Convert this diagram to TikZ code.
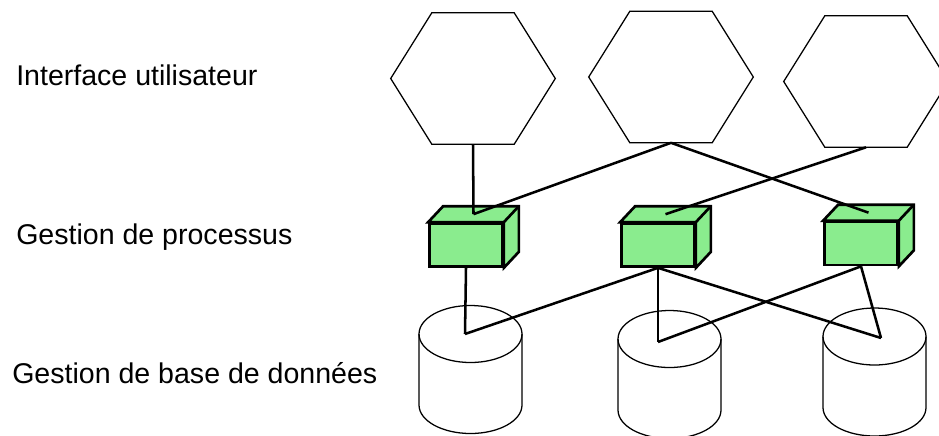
\documentclass[tikz,border=0pt]{standalone}
\usepackage{fontspec}
\setmainfont{Liberation Sans}
\usepackage{tikz}
\usetikzlibrary{calc}
\definecolor{procgreen}{HTML}{8AEC8E}

\begin{document}
\begin{tikzpicture}[x=0.025cm,y=0.025cm,every node/.style={font=\fontsize{20.3}{24}\selectfont},layer/.style={anchor=base west,inner sep=0pt},hexa/.style={minimum width=4.1cm,minimum height=3.275cm,inner sep=0pt},proc/.style={draw,line width=1.9pt,fill=procgreen,minimum width=1.825cm,minimum height=1.075cm,inner sep=0pt},link/.style={line width=1.8pt},outline/.style={line width=0.9pt}]
\useasboundingbox (0,0) rectangle (939,-435);
% layer captions
\node[layer] (ui) at (16,-85) {Interface utilisateur};
\node[layer] (proc) at (16,-244) {Gestion de processus};
\node[layer] (bdd) at (12,-383) {Gestion de base de données};
% user interfaces
\foreach \n/\x/\y in {ui1/473/-78.5,ui2/671/-77,ui3/866/-81.5}{
  \node[hexa] (\n) at (\x,\y) {};
  \draw[outline] (\n.west) -- ($(\n.north west)!.25!(\n.north east)$) -- ($(\n.north west)!.75!(\n.north east)$) -- (\n.east) -- ($(\n.south west)!.75!(\n.south east)$) -- ($(\n.south west)!.25!(\n.south east)$) -- cycle;
}
% process boxes, front face is the node
\foreach \n/\x/\y in {p1/466/-245,p2/658/-245,p3/861/-243.5}{
  \node[proc] (\n) at (\x,\y) {};
  \draw[line width=1.9pt,fill=procgreen] (\n.north west) -- ++(15,16) -- ($(\n.north east)+(15,16)$) -- ($(\n.south east)+(15,16)$) -- (\n.south east) -- (\n.north east) -- cycle;
  \draw[line width=1.9pt] (\n.north east) -- ++(15,16);
  \coordinate (\n-top) at ($(\n.north)+(7.5,8)$);
}
% databases
\foreach \x/\y in {470.5/-334,669.5/-339,874.5/-336.5}{
  \draw[outline] (\x-51.5,\y) -- ++(0,-71) arc[start angle=180,end angle=360,x radius=51.5,y radius=28.5] -- ++(0,71);
  \draw[outline] (\x,\y) ellipse[x radius=51.5,y radius=28.5];
}
\coordinate (db1) at (465,-334);
\coordinate (db2) at (658,-342);
\coordinate (db3) at (881,-338);
% links
\draw[link] (ui1.south) -- (p1-top);
\draw[link] (ui2.south) -- (p1-top);
\draw[link] (ui2.south) -- (p3-top);
\draw[link] (ui3.south) -- (p2-top);
\draw[link] (p1.south) -- (db1);
\draw[link] (p2.south) -- (db1);
\draw[link] (p2.south) -- (db2);
\draw[link] (p2.south) -- (db3);
\draw[link] (p3.south) -- (db2);
\draw[link] (p3.south) -- (db3);
\end{tikzpicture}
\end{document}
